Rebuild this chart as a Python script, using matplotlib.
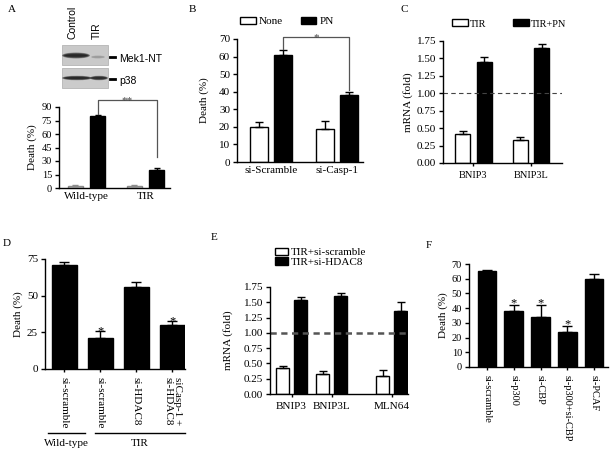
import numpy as np
import matplotlib
matplotlib.use('Agg')
import matplotlib.pyplot as plt
import matplotlib.transforms as mtransforms
from matplotlib.patches import Rectangle, Ellipse

plt.rcParams['font.family'] = ['Liberation Serif', 'DejaVu Serif']
plt.rcParams['font.size'] = 8
plt.rcParams['axes.linewidth'] = 1.0

# ---- data ----
# A: cell death, control vs TIR blots
a_groups = ['Wild-type', 'TIR']
a_ctrl = [2, 2]
a_ctrl_err = [0.8, 0.8]
a_treat = [80, 20]
a_treat_err = [1.0, 2.5]

# B
b_groups = ['si-Scramble', 'si-Casp-1']
b_none = [20, 19]
b_none_err = [2.5, 4.5]
b_pn = [61, 38]
b_pn_err = [2.5, 2.0]

# C
c_genes = ['BNIP3', 'BNIP3L']
c_tir = [0.42, 0.33]
c_tir_err = [0.04, 0.04]
c_tirpn = [1.45, 1.65]
c_tirpn_err = [0.07, 0.05]

# D
d_labels = ['si-scramble', 'si-scramble', 'si-HDAC8', 'siCasp-1 +\nsi-HDAC8']
d_death = [71, 21, 56, 30]
d_err = [2, 5, 3, 3]
d_star = [False, True, False, True]

# E
e_genes = ['BNIP3', 'BNIP3L', 'MLN64']
e_scr = [0.42, 0.33, 0.30]
e_scr_err = [0.04, 0.04, 0.10]
e_hdac = [1.54, 1.60, 1.35]
e_hdac_err = [0.05, 0.05, 0.15]

# F
f_labels = ['si-scramble', 'si-p300', 'si-CBP', 'si-p300+si-CBP', 'si-PCAF']
f_death = [65, 38, 34, 24, 60]
f_err = [1, 4, 8, 4, 3]
f_star = [False, True, True, True, False]

W, H = 611, 453
fig = plt.figure(figsize=(W / 100, H / 100), dpi=100)


def box(l, t, r, b):
    # pixel box -> figure fraction
    return [l / W, 1 - b / H, (r - l) / W, (b - t) / H]


def style(ax, ylim, yticks, labelsize=8):
    ax.spines[['top', 'right']].set_visible(False)
    ax.set_ylim(*ylim)
    ax.set_yticks(yticks)
    ax.tick_params(axis='y', direction='out', length=3, width=1, pad=2, labelsize=labelsize)
    ax.tick_params(axis='x', length=0, pad=3)


def up_err(err):
    return [np.zeros(len(err)), err]


ekw = dict(elinewidth=1, capthick=1, ecolor='black')

# ---------------- A ----------------
ax = fig.add_axes(box(59, 107, 170, 188))
x = np.arange(len(a_groups))
ax.bar(x - 0.19, a_ctrl, 0.26, yerr=up_err(a_ctrl_err), color='#c8c8c8', edgecolor='#8c8c8c',
       lw=1, capsize=2.5, error_kw=dict(elinewidth=1, capthick=1, ecolor='#8c8c8c'))
ax.bar(x + 0.19, a_treat, 0.26, yerr=up_err(a_treat_err), color='black', edgecolor='black',
       capsize=2.5, error_kw=ekw)
style(ax, (0, 90), [0, 15, 30, 45, 60, 75, 90], 7.5)
ax.set_xlim(-0.466, 1.415)
ax.set_xticks(x, a_groups, fontsize=8)
ax.set_ylabel('Death (%)', fontsize=8)
ax.yaxis.set_label_coords((37 - 59) / 111, 0.5)
top = 97.8
ax.plot([x[0] + 0.19, x[0] + 0.19, x[1] + 0.19, x[1] + 0.19],
        [a_treat[0] + a_treat_err[0] + 1, top, top, 34], color='#555555', lw=0.9, clip_on=False)
ax.text((x[0] + x[1]) / 2 + 0.19, top - 3.3, '**', ha='center', va='baseline', fontsize=8,
        color='#444444')

# ---------------- B ----------------
ax = fig.add_axes(box(237, 39, 363, 162))
x = np.arange(len(b_groups))
hn = ax.bar(x - 0.18, b_none, 0.27, yerr=up_err(b_none_err), color='white', edgecolor='black',
            lw=1, capsize=3, error_kw=ekw, label='None')
hp = ax.bar(x + 0.18, b_pn, 0.27, yerr=up_err(b_pn_err), color='black', edgecolor='black',
            capsize=3, error_kw=ekw, label='PN')
style(ax, (0, 70), range(0, 71, 10))
ax.set_xlim(-0.515, 1.394)
ax.set_xticks(x, b_groups, fontsize=8)
ax.set_ylabel('Death (%)', fontsize=8)
ax.yaxis.set_label_coords((209 - 237) / 126, 0.5)
top = 71.1
ax.plot([x[0] + 0.18, x[0] + 0.18, x[1] + 0.18, x[1] + 0.18],
        [b_pn[0] + b_pn_err[0] + 1, top, top, b_pn[1] + b_pn_err[1] + 1.2],
        color='#555555', lw=0.9, clip_on=False)
ax.text((x[0] + x[1]) / 2 + 0.18, top - 1.7, '*', ha='center', va='baseline', fontsize=8,
        color='#444444')
ax.legend(handles=[hn, hp], ncol=2, frameon=False, fontsize=8, loc='center left',
          bbox_to_anchor=(240 / W, 1 - 21.5 / H), bbox_transform=fig.transFigure,
          borderpad=0, borderaxespad=0, handlelength=1.4, handleheight=0.7,
          handletextpad=0.3, columnspacing=1.6)

# ---------------- C ----------------
ax = fig.add_axes(box(443, 41, 562, 163))
x = np.arange(len(c_genes))
ht = ax.bar(x - 0.19, c_tir, 0.26, yerr=up_err(c_tir_err), color='white', edgecolor='black',
            lw=1, capsize=3, error_kw=ekw, label='TIR')
hp = ax.bar(x + 0.19, c_tirpn, 0.26, yerr=up_err(c_tirpn_err), color='black', edgecolor='black',
            capsize=3, error_kw=ekw, label='TIR+PN')
ax.axhline(1.0, color='#444444', lw=0.8, ls=(0, (4, 3)))
style(ax, (0, 1.75), np.arange(0, 1.76, 0.25))
ax.yaxis.set_major_formatter('{x:.2f}')
ax.set_xlim(-0.53, 1.54)
ax.set_xticks(x, c_genes, fontsize=7.5)
ax.tick_params(axis='x', length=2.5, width=1, pad=3)
ax.set_ylabel('mRNA (fold)', fontsize=8)
ax.yaxis.set_label_coords((413 - 443) / 119, 0.5)
ax.legend(handles=[ht, hp], ncol=2, frameon=False, fontsize=7.5, loc='center left',
          bbox_to_anchor=(452 / W, 1 - 24 / H), bbox_transform=fig.transFigure,
          borderpad=0, borderaxespad=0, handlelength=1.5, handleheight=0.65,
          handletextpad=0.2, columnspacing=2.6)

# ---------------- D ----------------
ax = fig.add_axes(box(45, 259, 185, 369))
x = np.arange(len(d_labels))
ax.bar(x, d_death, 0.7, yerr=up_err(d_err), color='black', edgecolor='black',
       capsize=3.5, error_kw=ekw)
style(ax, (0, 75), [0, 25, 50, 75])
ax.set_xlim(-0.54, 3.35)
ax.set_xticks(x, d_labels, rotation=-90, fontsize=8, va='top', linespacing=1.1)
ax.tick_params(axis='x', length=2.5, width=1, pad=3)
ax.set_ylabel('Death (%)', fontsize=8)
ax.yaxis.set_label_coords((23 - 45) / 140, 0.5)
for i, s in enumerate(d_star):
    if s:
        ax.annotate('*', (x[i], d_death[i] + d_err[i]), xytext=(0, -2.5),
                    textcoords='offset points', ha='center', va='baseline', fontsize=9)
tr = mtransforms.blended_transform_factory(ax.transData, ax.transAxes)
for lo, hi, name in [(-0.46, 0.57, 'Wild-type'), (0.85, 3.35, 'TIR')]:
    ax.plot([lo, hi], [-0.58, -0.58], color='black', lw=1, transform=tr, clip_on=False)
    ax.text((lo + hi) / 2, -0.676, name, transform=tr, ha='center', va='center', fontsize=8)

# ---------------- E ----------------
ax = fig.add_axes(box(270, 287, 408, 394))
x = np.array([0, 1, 2.5])
hs = ax.bar(x - 0.225, e_scr, 0.33, yerr=up_err(e_scr_err), color='white', edgecolor='black',
            lw=1, capsize=3, error_kw=ekw, label='TIR+si-scramble')
hh = ax.bar(x + 0.225, e_hdac, 0.33, yerr=up_err(e_hdac_err), color='black', edgecolor='black',
            capsize=3, error_kw=ekw, label='TIR+si-HDAC8')
ax.axhline(1.0, color='#555555', lw=1.8, ls=(0, (2.5, 1.8)))
style(ax, (0, 1.75), np.arange(0, 1.76, 0.25))
ax.yaxis.set_major_formatter('{x:.2f}')
ax.set_xlim(-0.54, 2.91)
ax.set_xticks(x, e_genes, fontsize=8)
ax.tick_params(axis='x', length=2.5, width=1, pad=3)
ax.set_ylabel('mRNA (fold)', fontsize=8)
ax.yaxis.set_label_coords((233 - 270) / 138, 0.5)
ax.legend(handles=[hs, hh], ncol=1, frameon=False, fontsize=8, loc='upper left',
          bbox_to_anchor=(275 / W, 1 - 248 / H), bbox_transform=fig.transFigure,
          borderpad=0, borderaxespad=0, handlelength=1.2, handleheight=0.6,
          handletextpad=0.25, labelspacing=0.0)

# ---------------- F ----------------
ax = fig.add_axes(box(469, 264, 608, 367))
x = np.arange(len(f_labels))
ax.bar(x, f_death, 0.7, yerr=up_err(f_err), color='black', edgecolor='black',
       capsize=3.5, error_kw=ekw)
style(ax, (0, 70), range(0, 71, 10), 7.5)
ax.set_xlim(-0.67, 4.52)
ax.set_xticks(x, f_labels, rotation=-90, fontsize=7.5, va='top')
ax.tick_params(axis='x', length=2.5, width=1, pad=3)
ax.set_ylabel('Death (%)', fontsize=8)
ax.yaxis.set_label_coords((448 - 469) / 139, 0.5)
for i, s in enumerate(f_star):
    if s:
        ax.annotate('*', (x[i], f_death[i] + f_err[i]), xytext=(0, -1),
                    textcoords='offset points', ha='center', va='baseline', fontsize=9)

# ---------------- overlay: panel letters and western blot ----------------
ov = fig.add_axes([0, 0, 1, 1])
ov.set_xlim(0, W)
ov.set_ylim(H, 0)
ov.axis('off')
for letter, (px, py) in zip('ABCDEF', [(12, 9), (192, 9), (404, 10), (7, 244), (214, 238), (429, 245)]):
    ov.text(px, py, letter, ha='center', va='center', fontsize=8)


def band(cx, cy, w, h, color, n=5):
    for k in range(n):
        f = 1 - k / (n + 1)
        ov.add_patch(Ellipse((cx, cy), w * (0.7 + 0.3 * f), h * f, fc=color, ec='none', alpha=0.35))


ov.add_patch(Rectangle((62, 45), 46, 20, fc='#c9c9c9', ec='#b5b5b5', lw=0.6))
ov.add_patch(Rectangle((62, 68), 46, 20, fc='#cbcbcb', ec='#b5b5b5', lw=0.6))
band(76, 55.5, 28, 6, '#1a1a1a', 6)
band(98, 57, 14, 3, '#8a8a8a', 3)
band(77, 78, 30, 4.5, '#1a1a1a', 6)
band(99, 78, 18, 4.5, '#202020', 6)
sans = ['Liberation Sans', 'DejaVu Sans']
ov.plot([110, 115], [57, 57], color='black', lw=2)
ov.plot([110, 115], [79, 79], color='black', lw=2)
ov.text(119, 59, 'Mek1-NT', family=sans, fontsize=7.5, ha='left', va='center')
ov.text(119, 81, 'p38', family=sans, fontsize=7.5, ha='left', va='center')
ov.text(73, 39, 'Control', family=sans, fontsize=7.5, rotation=90, ha='center', va='bottom')
ov.text(97, 39, 'TIR', family=sans, fontsize=7.5, rotation=90, ha='center', va='bottom')

fig.savefig('out.png', dpi=100)
